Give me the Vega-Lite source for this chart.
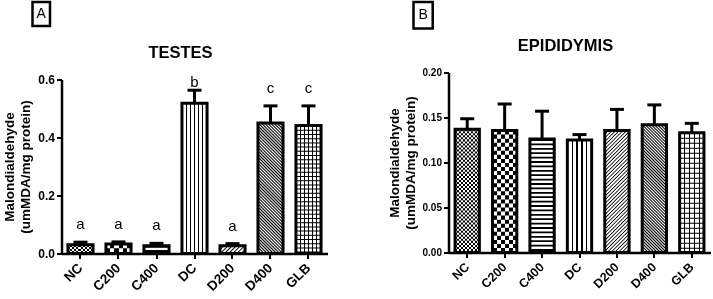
{
"$schema": "https://vega.github.io/schema/vega-lite/v6.json",
"padding": {"left": 1.5, "top": 0, "right": 0, "bottom": 0},
"spacing": 58,
"config": {
  "font": "Liberation Sans",
  "view": {"stroke": null},
  "axis": {"domainColor": "#000", "domainWidth": 2.5, "tickColor": "#000", "tickWidth": 2, "tickSize": 5, "labelColor": "#000", "labelFontWeight": "bold", "titleColor": "#000", "titleFontWeight": "bold", "grid": false},
  "title": {"fontSize": 16.5, "fontWeight": "bold", "color": "#000"}
},
"datasets": {
  "testes": [
    {"group": "NC", "mean": 0.030, "upper": 0.039, "letter": "a"},
    {"group": "C200", "mean": 0.033, "upper": 0.040, "letter": "a"},
    {"group": "C400", "mean": 0.027, "upper": 0.035, "letter": "a"},
    {"group": "DC", "mean": 0.518, "upper": 0.563, "letter": "b"},
    {"group": "D200", "mean": 0.027, "upper": 0.034, "letter": "a"},
    {"group": "D400", "mean": 0.450, "upper": 0.509, "letter": "c"},
    {"group": "GLB", "mean": 0.441, "upper": 0.509, "letter": "c"}
  ],
  "epididymis": [
    {"group": "NC", "mean": 0.137, "upper": 0.1486},
    {"group": "C200", "mean": 0.1355, "upper": 0.165},
    {"group": "C400", "mean": 0.126, "upper": 0.157},
    {"group": "DC", "mean": 0.125, "upper": 0.131},
    {"group": "D200", "mean": 0.1355, "upper": 0.159},
    {"group": "D400", "mean": 0.142, "upper": 0.164},
    {"group": "GLB", "mean": 0.133, "upper": 0.1435}
  ]
},
"hconcat": [
{
  "spacing": 16.5,
  "vconcat": [
    {"spacing": 10, "hconcat": [
      {"width": 19, "height": 24, "data": {"values": [{}]}, "mark": {"type": "text", "text": ""}, "encoding": {}},
      {"width": 17.5, "height": 24, "view": {"stroke": "#000", "strokeWidth": 2.5}, "data": {"values": [{"label": "A"}]}, "mark": {"type": "text", "fontSize": 14, "align": "center", "baseline": "middle", "color": "#000"}, "encoding": {"text": {"field": "label"}}}
    ]},
    {"spacing": 0, "hconcat": [
    {"width": 1, "height": 1, "data": {"values": [{}]}, "mark": {"type": "text", "text": ""}, "encoding": {}},
    {
      "width": 266, "height": 174,
      "data": {"name": "testes"},
      "title": {"text": "TESTES", "dx": -14, "offset": 12},
      "encoding": {
        "x": {"field": "group", "type": "nominal", "sort": null, "scale": {"paddingInner": 0.34, "paddingOuter": 0.17}, "axis": {"title": null, "labelAngle": -45, "labelFontSize": 13.5, "labelAlign": "right", "labelBaseline": "middle", "labelPadding": 7}},
        "y": {"field": "mean", "type": "quantitative", "title": ["Malondialdehyde", "(umMDA/mg protein)"], "scale": {"domain": [0, 0.6], "nice": false}, "axis": {"values": [0, 0.2, 0.4, 0.6], "format": ".1f", "labelFontSize": 12, "labelPadding": 2, "titleFontSize": 13.5, "titleLineHeight": 16, "titlePadding": 5}}
      },
      "layer": [
        {"mark": {"type": "bar"}, "encoding": {"fill": {"condition": [
          {"test": "datum.group == 'DC'", "value": {"gradient": "linear", "x1": 0, "y1": 0, "x2": 1, "y2": 0, "stops": [
            {"offset": 0, "color": "#fff"}, {"offset": 0.142, "color": "#fff"}, {"offset": 0.142, "color": "#000"}, {"offset": 0.192, "color": "#000"}, {"offset": 0.192, "color": "#fff"},
            {"offset": 0.308, "color": "#fff"}, {"offset": 0.308, "color": "#000"}, {"offset": 0.358, "color": "#000"}, {"offset": 0.358, "color": "#fff"},
            {"offset": 0.475, "color": "#fff"}, {"offset": 0.475, "color": "#000"}, {"offset": 0.525, "color": "#000"}, {"offset": 0.525, "color": "#fff"},
            {"offset": 0.642, "color": "#fff"}, {"offset": 0.642, "color": "#000"}, {"offset": 0.692, "color": "#000"}, {"offset": 0.692, "color": "#fff"},
            {"offset": 0.808, "color": "#fff"}, {"offset": 0.808, "color": "#000"}, {"offset": 0.858, "color": "#000"}, {"offset": 0.858, "color": "#fff"}, {"offset": 1, "color": "#fff"}]}},
          {"test": "datum.group == 'D200'", "value": {"gradient": "linear", "x1": 0, "y1": 0, "x2": 1.1958, "y2": 0.3732, "stops": [
            {"offset": 0, "color": "#000"}, {"offset": 0.04, "color": "#fff"}, {"offset": 0.085, "color": "#fff"},
            {"offset": 0.125, "color": "#000"}, {"offset": 0.165, "color": "#fff"}, {"offset": 0.21, "color": "#fff"},
            {"offset": 0.25, "color": "#000"}, {"offset": 0.29, "color": "#fff"}, {"offset": 0.335, "color": "#fff"},
            {"offset": 0.375, "color": "#000"}, {"offset": 0.415, "color": "#fff"}, {"offset": 0.46, "color": "#fff"},
            {"offset": 0.5, "color": "#000"}, {"offset": 0.54, "color": "#fff"}, {"offset": 0.585, "color": "#fff"},
            {"offset": 0.625, "color": "#000"}, {"offset": 0.665, "color": "#fff"}, {"offset": 0.71, "color": "#fff"},
            {"offset": 0.75, "color": "#000"}, {"offset": 0.79, "color": "#fff"}, {"offset": 0.835, "color": "#fff"},
            {"offset": 0.875, "color": "#000"}, {"offset": 0.915, "color": "#fff"}, {"offset": 0.96, "color": "#fff"}, {"offset": 1, "color": "#000"}]}},
          {"test": "datum.group == 'D400'", "value": {"gradient": "linear", "x1": 0, "y1": 1, "x2": 0.2211, "y2": -0.1497, "stops": [
            {"offset": 0, "color": "#000"}, {"offset": 0.01, "color": "#fff"}, {"offset": 0.02, "color": "#000"}, {"offset": 0.03, "color": "#fff"}, {"offset": 0.04, "color": "#000"}, {"offset": 0.05, "color": "#fff"}, {"offset": 0.06, "color": "#000"}, {"offset": 0.07, "color": "#fff"}, {"offset": 0.08, "color": "#000"}, {"offset": 0.09, "color": "#fff"},
            {"offset": 0.1, "color": "#000"}, {"offset": 0.11, "color": "#fff"}, {"offset": 0.12, "color": "#000"}, {"offset": 0.13, "color": "#fff"}, {"offset": 0.14, "color": "#000"}, {"offset": 0.15, "color": "#fff"}, {"offset": 0.16, "color": "#000"}, {"offset": 0.17, "color": "#fff"}, {"offset": 0.18, "color": "#000"}, {"offset": 0.19, "color": "#fff"},
            {"offset": 0.2, "color": "#000"}, {"offset": 0.21, "color": "#fff"}, {"offset": 0.22, "color": "#000"}, {"offset": 0.23, "color": "#fff"}, {"offset": 0.24, "color": "#000"}, {"offset": 0.25, "color": "#fff"}, {"offset": 0.26, "color": "#000"}, {"offset": 0.27, "color": "#fff"}, {"offset": 0.28, "color": "#000"}, {"offset": 0.29, "color": "#fff"},
            {"offset": 0.3, "color": "#000"}, {"offset": 0.31, "color": "#fff"}, {"offset": 0.32, "color": "#000"}, {"offset": 0.33, "color": "#fff"}, {"offset": 0.34, "color": "#000"}, {"offset": 0.35, "color": "#fff"}, {"offset": 0.36, "color": "#000"}, {"offset": 0.37, "color": "#fff"}, {"offset": 0.38, "color": "#000"}, {"offset": 0.39, "color": "#fff"},
            {"offset": 0.4, "color": "#000"}, {"offset": 0.41, "color": "#fff"}, {"offset": 0.42, "color": "#000"}, {"offset": 0.43, "color": "#fff"}, {"offset": 0.44, "color": "#000"}, {"offset": 0.45, "color": "#fff"}, {"offset": 0.46, "color": "#000"}, {"offset": 0.47, "color": "#fff"}, {"offset": 0.48, "color": "#000"}, {"offset": 0.49, "color": "#fff"},
            {"offset": 0.5, "color": "#000"}, {"offset": 0.51, "color": "#fff"}, {"offset": 0.52, "color": "#000"}, {"offset": 0.53, "color": "#fff"}, {"offset": 0.54, "color": "#000"}, {"offset": 0.55, "color": "#fff"}, {"offset": 0.56, "color": "#000"}, {"offset": 0.57, "color": "#fff"}, {"offset": 0.58, "color": "#000"}, {"offset": 0.59, "color": "#fff"},
            {"offset": 0.6, "color": "#000"}, {"offset": 0.61, "color": "#fff"}, {"offset": 0.62, "color": "#000"}, {"offset": 0.63, "color": "#fff"}, {"offset": 0.64, "color": "#000"}, {"offset": 0.65, "color": "#fff"}, {"offset": 0.66, "color": "#000"}, {"offset": 0.67, "color": "#fff"}, {"offset": 0.68, "color": "#000"}, {"offset": 0.69, "color": "#fff"},
            {"offset": 0.7, "color": "#000"}, {"offset": 0.71, "color": "#fff"}, {"offset": 0.72, "color": "#000"}, {"offset": 0.73, "color": "#fff"}, {"offset": 0.74, "color": "#000"}, {"offset": 0.75, "color": "#fff"}, {"offset": 0.76, "color": "#000"}, {"offset": 0.77, "color": "#fff"}, {"offset": 0.78, "color": "#000"}, {"offset": 0.79, "color": "#fff"},
            {"offset": 0.8, "color": "#000"}, {"offset": 0.81, "color": "#fff"}, {"offset": 0.82, "color": "#000"}, {"offset": 0.83, "color": "#fff"}, {"offset": 0.84, "color": "#000"}, {"offset": 0.85, "color": "#fff"}, {"offset": 0.86, "color": "#000"}, {"offset": 0.87, "color": "#fff"}, {"offset": 0.88, "color": "#000"}, {"offset": 0.89, "color": "#fff"},
            {"offset": 0.9, "color": "#000"}, {"offset": 0.91, "color": "#fff"}, {"offset": 0.92, "color": "#000"}, {"offset": 0.93, "color": "#fff"}, {"offset": 0.94, "color": "#000"}, {"offset": 0.95, "color": "#fff"}, {"offset": 0.96, "color": "#000"}, {"offset": 0.97, "color": "#fff"}, {"offset": 0.98, "color": "#000"}, {"offset": 0.99, "color": "#fff"}, {"offset": 1, "color": "#000"}]}}
        ], "value": "#fff"}}},
        {"transform": [{"filter": "datum.group == 'NC' || datum.group == 'C200' || datum.group == 'C400' || datum.group == 'GLB'"}],
         "mark": {"type": "rule", "stroke": "#000", "strokeWidth": 25.1},
         "encoding": {"y2": {"datum": 0}, "strokeDash": {"condition": [
           {"test": "datum.group == 'NC'", "value": [2.1, 2.1]},
           {"test": "datum.group == 'C200'", "value": [4.2, 4.2]},
           {"test": "datum.group == 'GLB'", "value": [1, 3.2]}
         ], "value": [2, 2.4]}}},
        {"transform": [{"filter": "datum.group == 'NC' || datum.group == 'C200'"}],
         "mark": {"type": "bar", "blend": "difference"},
         "encoding": {"fill": {"condition": {"test": "datum.group == 'NC'", "value": {"gradient": "linear", "x1": 0, "y1": 0, "x2": 1, "y2": 0, "stops": [
           {"offset": 0, "color": "#fff"}, {"offset": 0.0833, "color": "#fff"}, {"offset": 0.0833, "color": "rgba(255,255,255,0)"}, {"offset": 0.1667, "color": "rgba(255,255,255,0)"},
           {"offset": 0.1667, "color": "#fff"}, {"offset": 0.25, "color": "#fff"}, {"offset": 0.25, "color": "rgba(255,255,255,0)"}, {"offset": 0.3333, "color": "rgba(255,255,255,0)"},
           {"offset": 0.3333, "color": "#fff"}, {"offset": 0.4167, "color": "#fff"}, {"offset": 0.4167, "color": "rgba(255,255,255,0)"}, {"offset": 0.5, "color": "rgba(255,255,255,0)"},
           {"offset": 0.5, "color": "#fff"}, {"offset": 0.5833, "color": "#fff"}, {"offset": 0.5833, "color": "rgba(255,255,255,0)"}, {"offset": 0.6667, "color": "rgba(255,255,255,0)"},
           {"offset": 0.6667, "color": "#fff"}, {"offset": 0.75, "color": "#fff"}, {"offset": 0.75, "color": "rgba(255,255,255,0)"}, {"offset": 0.8333, "color": "rgba(255,255,255,0)"},
           {"offset": 0.8333, "color": "#fff"}, {"offset": 0.9167, "color": "#fff"}, {"offset": 0.9167, "color": "rgba(255,255,255,0)"}, {"offset": 1, "color": "rgba(255,255,255,0)"}]}},
           "value": {"gradient": "linear", "x1": 0, "y1": 0, "x2": 1, "y2": 0, "stops": [
           {"offset": 0, "color": "#fff"}, {"offset": 0.1667, "color": "#fff"}, {"offset": 0.1667, "color": "rgba(255,255,255,0)"}, {"offset": 0.3333, "color": "rgba(255,255,255,0)"},
           {"offset": 0.3333, "color": "#fff"}, {"offset": 0.5, "color": "#fff"}, {"offset": 0.5, "color": "rgba(255,255,255,0)"}, {"offset": 0.6667, "color": "rgba(255,255,255,0)"},
           {"offset": 0.6667, "color": "#fff"}, {"offset": 0.8333, "color": "#fff"}, {"offset": 0.8333, "color": "rgba(255,255,255,0)"}, {"offset": 1, "color": "rgba(255,255,255,0)"}]}}}},
        {"transform": [{"filter": "datum.group == 'GLB'"}],
         "mark": {"type": "bar", "fill": {"gradient": "linear", "x1": 0, "y1": 0, "x2": 1, "y2": 0, "stops": [
           {"offset": 0, "color": "rgba(0,0,0,0)"}, {"offset": 0.147, "color": "rgba(0,0,0,0)"}, {"offset": 0.147, "color": "#000"}, {"offset": 0.187, "color": "#000"}, {"offset": 0.187, "color": "rgba(0,0,0,0)"},
           {"offset": 0.313, "color": "rgba(0,0,0,0)"}, {"offset": 0.313, "color": "#000"}, {"offset": 0.353, "color": "#000"}, {"offset": 0.353, "color": "rgba(0,0,0,0)"},
           {"offset": 0.48, "color": "rgba(0,0,0,0)"}, {"offset": 0.48, "color": "#000"}, {"offset": 0.52, "color": "#000"}, {"offset": 0.52, "color": "rgba(0,0,0,0)"},
           {"offset": 0.647, "color": "rgba(0,0,0,0)"}, {"offset": 0.647, "color": "#000"}, {"offset": 0.687, "color": "#000"}, {"offset": 0.687, "color": "rgba(0,0,0,0)"},
           {"offset": 0.813, "color": "rgba(0,0,0,0)"}, {"offset": 0.813, "color": "#000"}, {"offset": 0.853, "color": "#000"}, {"offset": 0.853, "color": "rgba(0,0,0,0)"}, {"offset": 1, "color": "rgba(0,0,0,0)"}]}},
         "encoding": {}},
        {"mark": {"type": "bar", "fillOpacity": 0, "stroke": "#000", "strokeWidth": 3}},
        {"mark": {"type": "rule", "stroke": "#000", "strokeWidth": 3}, "encoding": {"y2": {"field": "upper"}}},
        {"mark": {"type": "tick", "color": "#000", "opacity": 1, "size": 14, "thickness": 3}, "encoding": {"y": {"field": "upper", "type": "quantitative", "title": ["Malondialdehyde", "(umMDA/mg protein)"]}}},
        {"transform": [{"filter": "datum.group != 'DC'"}], "mark": {"type": "text", "dy": -13, "baseline": "alphabetic", "fontSize": 15, "color": "#000"}, "encoding": {"y": {"field": "upper", "type": "quantitative", "title": ["Malondialdehyde", "(umMDA/mg protein)"]}, "text": {"field": "letter"}}},
        {"transform": [{"filter": "datum.group == 'DC'"}], "mark": {"type": "text", "dy": -3, "baseline": "alphabetic", "fontSize": 15, "color": "#000"}, "encoding": {"y": {"field": "upper", "type": "quantitative", "title": ["Malondialdehyde", "(umMDA/mg protein)"]}, "text": {"field": "letter"}}}
      ]
    }
    ]}
  ]
},
{
  "spacing": 7.5,
  "vconcat": [
    {"spacing": 10, "hconcat": [
      {"width": 15.75, "height": 26.5, "data": {"values": [{}]}, "mark": {"type": "text", "text": ""}, "encoding": {}},
      {"width": 19.2, "height": 26.5, "view": {"stroke": "#000", "strokeWidth": 2.5}, "data": {"values": [{"label": "B"}]}, "mark": {"type": "text", "fontSize": 14, "align": "center", "baseline": "middle", "color": "#000"}, "encoding": {"text": {"field": "label"}}}
    ]},
    {"spacing": 0, "hconcat": [
    {"width": 1, "height": 1, "data": {"values": [{}]}, "mark": {"type": "text", "text": ""}, "encoding": {}},
    {
      "width": 262, "height": 180,
      "data": {"name": "epididymis"},
      "title": {"text": "EPIDIDYMIS", "dx": -14, "offset": 13.3},
      "encoding": {
        "x": {"field": "group", "type": "nominal", "sort": null, "scale": {"paddingInner": 0.35, "paddingOuter": 0.175}, "axis": {"title": null, "labelAngle": -45, "labelFontSize": 12.5, "labelAlign": "right", "labelBaseline": "middle", "labelPadding": 7}},
        "y": {"field": "mean", "type": "quantitative", "title": ["Malondialdehyde", "(umMDA/mg protein)"], "scale": {"domain": [0, 0.2], "nice": false}, "axis": {"values": [0, 0.05, 0.1, 0.15, 0.2], "format": ".2f", "labelFontSize": 10, "labelPadding": 2, "titleFontSize": 13.5, "titleLineHeight": 16, "titlePadding": 5}}
      },
      "layer": [
        {"mark": {"type": "bar"}, "encoding": {"fill": {"condition": [
          {"test": "datum.group == 'DC'", "value": {"gradient": "linear", "x1": 0, "y1": 0, "x2": 1, "y2": 0, "stops": [
            {"offset": 0, "color": "#fff"}, {"offset": 0.175, "color": "#fff"}, {"offset": 0.175, "color": "#000"}, {"offset": 0.225, "color": "#000"}, {"offset": 0.225, "color": "#fff"},
            {"offset": 0.375, "color": "#fff"}, {"offset": 0.375, "color": "#000"}, {"offset": 0.425, "color": "#000"}, {"offset": 0.425, "color": "#fff"},
            {"offset": 0.575, "color": "#fff"}, {"offset": 0.575, "color": "#000"}, {"offset": 0.625, "color": "#000"}, {"offset": 0.625, "color": "#fff"},
            {"offset": 0.775, "color": "#fff"}, {"offset": 0.775, "color": "#000"}, {"offset": 0.825, "color": "#000"}, {"offset": 0.825, "color": "#fff"}, {"offset": 1, "color": "#fff"}]}},
          {"test": "datum.group == 'D200'", "value": {"gradient": "linear", "x1": 0, "y1": 0, "x2": 0.2302, "y2": 1.1536, "stops": [
            {"offset": 0, "color": "#000"}, {"offset": 0.008, "color": "#fff"}, {"offset": 0.017, "color": "#fff"},
            {"offset": 0.025, "color": "#000"}, {"offset": 0.033, "color": "#fff"}, {"offset": 0.042, "color": "#fff"},
            {"offset": 0.05, "color": "#000"}, {"offset": 0.058, "color": "#fff"}, {"offset": 0.067, "color": "#fff"},
            {"offset": 0.075, "color": "#000"}, {"offset": 0.083, "color": "#fff"}, {"offset": 0.092, "color": "#fff"},
            {"offset": 0.1, "color": "#000"}, {"offset": 0.108, "color": "#fff"}, {"offset": 0.117, "color": "#fff"},
            {"offset": 0.125, "color": "#000"}, {"offset": 0.133, "color": "#fff"}, {"offset": 0.142, "color": "#fff"},
            {"offset": 0.15, "color": "#000"}, {"offset": 0.158, "color": "#fff"}, {"offset": 0.167, "color": "#fff"},
            {"offset": 0.175, "color": "#000"}, {"offset": 0.183, "color": "#fff"}, {"offset": 0.192, "color": "#fff"},
            {"offset": 0.2, "color": "#000"}, {"offset": 0.208, "color": "#fff"}, {"offset": 0.217, "color": "#fff"},
            {"offset": 0.225, "color": "#000"}, {"offset": 0.233, "color": "#fff"}, {"offset": 0.242, "color": "#fff"},
            {"offset": 0.25, "color": "#000"}, {"offset": 0.258, "color": "#fff"}, {"offset": 0.267, "color": "#fff"},
            {"offset": 0.275, "color": "#000"}, {"offset": 0.283, "color": "#fff"}, {"offset": 0.292, "color": "#fff"},
            {"offset": 0.3, "color": "#000"}, {"offset": 0.308, "color": "#fff"}, {"offset": 0.317, "color": "#fff"},
            {"offset": 0.325, "color": "#000"}, {"offset": 0.333, "color": "#fff"}, {"offset": 0.342, "color": "#fff"},
            {"offset": 0.35, "color": "#000"}, {"offset": 0.358, "color": "#fff"}, {"offset": 0.367, "color": "#fff"},
            {"offset": 0.375, "color": "#000"}, {"offset": 0.383, "color": "#fff"}, {"offset": 0.392, "color": "#fff"},
            {"offset": 0.4, "color": "#000"}, {"offset": 0.408, "color": "#fff"}, {"offset": 0.417, "color": "#fff"},
            {"offset": 0.425, "color": "#000"}, {"offset": 0.433, "color": "#fff"}, {"offset": 0.442, "color": "#fff"},
            {"offset": 0.45, "color": "#000"}, {"offset": 0.458, "color": "#fff"}, {"offset": 0.467, "color": "#fff"},
            {"offset": 0.475, "color": "#000"}, {"offset": 0.483, "color": "#fff"}, {"offset": 0.492, "color": "#fff"},
            {"offset": 0.5, "color": "#000"}, {"offset": 0.508, "color": "#fff"}, {"offset": 0.517, "color": "#fff"},
            {"offset": 0.525, "color": "#000"}, {"offset": 0.533, "color": "#fff"}, {"offset": 0.542, "color": "#fff"},
            {"offset": 0.55, "color": "#000"}, {"offset": 0.558, "color": "#fff"}, {"offset": 0.567, "color": "#fff"},
            {"offset": 0.575, "color": "#000"}, {"offset": 0.583, "color": "#fff"}, {"offset": 0.592, "color": "#fff"},
            {"offset": 0.6, "color": "#000"}, {"offset": 0.608, "color": "#fff"}, {"offset": 0.617, "color": "#fff"},
            {"offset": 0.625, "color": "#000"}, {"offset": 0.633, "color": "#fff"}, {"offset": 0.642, "color": "#fff"},
            {"offset": 0.65, "color": "#000"}, {"offset": 0.658, "color": "#fff"}, {"offset": 0.667, "color": "#fff"},
            {"offset": 0.675, "color": "#000"}, {"offset": 0.683, "color": "#fff"}, {"offset": 0.692, "color": "#fff"},
            {"offset": 0.7, "color": "#000"}, {"offset": 0.708, "color": "#fff"}, {"offset": 0.717, "color": "#fff"},
            {"offset": 0.725, "color": "#000"}, {"offset": 0.733, "color": "#fff"}, {"offset": 0.742, "color": "#fff"},
            {"offset": 0.75, "color": "#000"}, {"offset": 0.758, "color": "#fff"}, {"offset": 0.767, "color": "#fff"},
            {"offset": 0.775, "color": "#000"}, {"offset": 0.783, "color": "#fff"}, {"offset": 0.792, "color": "#fff"},
            {"offset": 0.8, "color": "#000"}, {"offset": 0.808, "color": "#fff"}, {"offset": 0.817, "color": "#fff"},
            {"offset": 0.825, "color": "#000"}, {"offset": 0.833, "color": "#fff"}, {"offset": 0.842, "color": "#fff"},
            {"offset": 0.85, "color": "#000"}, {"offset": 0.858, "color": "#fff"}, {"offset": 0.867, "color": "#fff"},
            {"offset": 0.875, "color": "#000"}, {"offset": 0.883, "color": "#fff"}, {"offset": 0.892, "color": "#fff"},
            {"offset": 0.9, "color": "#000"}, {"offset": 0.908, "color": "#fff"}, {"offset": 0.917, "color": "#fff"},
            {"offset": 0.925, "color": "#000"}, {"offset": 0.933, "color": "#fff"}, {"offset": 0.942, "color": "#fff"},
            {"offset": 0.95, "color": "#000"}, {"offset": 0.958, "color": "#fff"}, {"offset": 0.967, "color": "#fff"},
            {"offset": 0.975, "color": "#000"}, {"offset": 0.983, "color": "#fff"}, {"offset": 0.992, "color": "#fff"}, {"offset": 1, "color": "#000"}]}},
          {"test": "datum.group == 'D400'", "value": {"gradient": "linear", "x1": 0, "y1": 1, "x2": 0.2187, "y2": -0.1488, "stops": [
            {"offset": 0, "color": "#000"}, {"offset": 0.01, "color": "#fff"}, {"offset": 0.02, "color": "#000"}, {"offset": 0.03, "color": "#fff"}, {"offset": 0.04, "color": "#000"}, {"offset": 0.05, "color": "#fff"}, {"offset": 0.06, "color": "#000"}, {"offset": 0.07, "color": "#fff"}, {"offset": 0.08, "color": "#000"}, {"offset": 0.09, "color": "#fff"},
            {"offset": 0.1, "color": "#000"}, {"offset": 0.11, "color": "#fff"}, {"offset": 0.12, "color": "#000"}, {"offset": 0.13, "color": "#fff"}, {"offset": 0.14, "color": "#000"}, {"offset": 0.15, "color": "#fff"}, {"offset": 0.16, "color": "#000"}, {"offset": 0.17, "color": "#fff"}, {"offset": 0.18, "color": "#000"}, {"offset": 0.19, "color": "#fff"},
            {"offset": 0.2, "color": "#000"}, {"offset": 0.21, "color": "#fff"}, {"offset": 0.22, "color": "#000"}, {"offset": 0.23, "color": "#fff"}, {"offset": 0.24, "color": "#000"}, {"offset": 0.25, "color": "#fff"}, {"offset": 0.26, "color": "#000"}, {"offset": 0.27, "color": "#fff"}, {"offset": 0.28, "color": "#000"}, {"offset": 0.29, "color": "#fff"},
            {"offset": 0.3, "color": "#000"}, {"offset": 0.31, "color": "#fff"}, {"offset": 0.32, "color": "#000"}, {"offset": 0.33, "color": "#fff"}, {"offset": 0.34, "color": "#000"}, {"offset": 0.35, "color": "#fff"}, {"offset": 0.36, "color": "#000"}, {"offset": 0.37, "color": "#fff"}, {"offset": 0.38, "color": "#000"}, {"offset": 0.39, "color": "#fff"},
            {"offset": 0.4, "color": "#000"}, {"offset": 0.41, "color": "#fff"}, {"offset": 0.42, "color": "#000"}, {"offset": 0.43, "color": "#fff"}, {"offset": 0.44, "color": "#000"}, {"offset": 0.45, "color": "#fff"}, {"offset": 0.46, "color": "#000"}, {"offset": 0.47, "color": "#fff"}, {"offset": 0.48, "color": "#000"}, {"offset": 0.49, "color": "#fff"},
            {"offset": 0.5, "color": "#000"}, {"offset": 0.51, "color": "#fff"}, {"offset": 0.52, "color": "#000"}, {"offset": 0.53, "color": "#fff"}, {"offset": 0.54, "color": "#000"}, {"offset": 0.55, "color": "#fff"}, {"offset": 0.56, "color": "#000"}, {"offset": 0.57, "color": "#fff"}, {"offset": 0.58, "color": "#000"}, {"offset": 0.59, "color": "#fff"},
            {"offset": 0.6, "color": "#000"}, {"offset": 0.61, "color": "#fff"}, {"offset": 0.62, "color": "#000"}, {"offset": 0.63, "color": "#fff"}, {"offset": 0.64, "color": "#000"}, {"offset": 0.65, "color": "#fff"}, {"offset": 0.66, "color": "#000"}, {"offset": 0.67, "color": "#fff"}, {"offset": 0.68, "color": "#000"}, {"offset": 0.69, "color": "#fff"},
            {"offset": 0.7, "color": "#000"}, {"offset": 0.71, "color": "#fff"}, {"offset": 0.72, "color": "#000"}, {"offset": 0.73, "color": "#fff"}, {"offset": 0.74, "color": "#000"}, {"offset": 0.75, "color": "#fff"}, {"offset": 0.76, "color": "#000"}, {"offset": 0.77, "color": "#fff"}, {"offset": 0.78, "color": "#000"}, {"offset": 0.79, "color": "#fff"},
            {"offset": 0.8, "color": "#000"}, {"offset": 0.81, "color": "#fff"}, {"offset": 0.82, "color": "#000"}, {"offset": 0.83, "color": "#fff"}, {"offset": 0.84, "color": "#000"}, {"offset": 0.85, "color": "#fff"}, {"offset": 0.86, "color": "#000"}, {"offset": 0.87, "color": "#fff"}, {"offset": 0.88, "color": "#000"}, {"offset": 0.89, "color": "#fff"},
            {"offset": 0.9, "color": "#000"}, {"offset": 0.91, "color": "#fff"}, {"offset": 0.92, "color": "#000"}, {"offset": 0.93, "color": "#fff"}, {"offset": 0.94, "color": "#000"}, {"offset": 0.95, "color": "#fff"}, {"offset": 0.96, "color": "#000"}, {"offset": 0.97, "color": "#fff"}, {"offset": 0.98, "color": "#000"}, {"offset": 0.99, "color": "#fff"}, {"offset": 1, "color": "#000"}]}}
        ], "value": "#fff"}}},
        {"transform": [{"filter": "datum.group == 'NC' || datum.group == 'C200' || datum.group == 'C400' || datum.group == 'GLB'"}],
         "mark": {"type": "rule", "stroke": "#000", "strokeWidth": 24.33},
         "encoding": {"y2": {"datum": 0}, "strokeDash": {"condition": [
           {"test": "datum.group == 'NC'", "value": [2.03, 2.03]},
           {"test": "datum.group == 'C200'", "value": [4.05, 4.05]},
           {"test": "datum.group == 'GLB'", "value": [1.05, 3.95]}
         ], "value": [1.8, 2.6]}}},
        {"transform": [{"filter": "datum.group == 'NC' || datum.group == 'C200'"}],
         "mark": {"type": "bar", "blend": "difference"},
         "encoding": {"fill": {"condition": {"test": "datum.group == 'NC'", "value": {"gradient": "linear", "x1": 0, "y1": 0, "x2": 1, "y2": 0, "stops": [
           {"offset": 0, "color": "#fff"}, {"offset": 0.0833, "color": "#fff"}, {"offset": 0.0833, "color": "rgba(255,255,255,0)"}, {"offset": 0.1667, "color": "rgba(255,255,255,0)"},
           {"offset": 0.1667, "color": "#fff"}, {"offset": 0.25, "color": "#fff"}, {"offset": 0.25, "color": "rgba(255,255,255,0)"}, {"offset": 0.3333, "color": "rgba(255,255,255,0)"},
           {"offset": 0.3333, "color": "#fff"}, {"offset": 0.4167, "color": "#fff"}, {"offset": 0.4167, "color": "rgba(255,255,255,0)"}, {"offset": 0.5, "color": "rgba(255,255,255,0)"},
           {"offset": 0.5, "color": "#fff"}, {"offset": 0.5833, "color": "#fff"}, {"offset": 0.5833, "color": "rgba(255,255,255,0)"}, {"offset": 0.6667, "color": "rgba(255,255,255,0)"},
           {"offset": 0.6667, "color": "#fff"}, {"offset": 0.75, "color": "#fff"}, {"offset": 0.75, "color": "rgba(255,255,255,0)"}, {"offset": 0.8333, "color": "rgba(255,255,255,0)"},
           {"offset": 0.8333, "color": "#fff"}, {"offset": 0.9167, "color": "#fff"}, {"offset": 0.9167, "color": "rgba(255,255,255,0)"}, {"offset": 1, "color": "rgba(255,255,255,0)"}]}},
           "value": {"gradient": "linear", "x1": 0, "y1": 0, "x2": 1, "y2": 0, "stops": [
           {"offset": 0, "color": "#fff"}, {"offset": 0.1667, "color": "#fff"}, {"offset": 0.1667, "color": "rgba(255,255,255,0)"}, {"offset": 0.3333, "color": "rgba(255,255,255,0)"},
           {"offset": 0.3333, "color": "#fff"}, {"offset": 0.5, "color": "#fff"}, {"offset": 0.5, "color": "rgba(255,255,255,0)"}, {"offset": 0.6667, "color": "rgba(255,255,255,0)"},
           {"offset": 0.6667, "color": "#fff"}, {"offset": 0.8333, "color": "#fff"}, {"offset": 0.8333, "color": "rgba(255,255,255,0)"}, {"offset": 1, "color": "rgba(255,255,255,0)"}]}}}},
        {"transform": [{"filter": "datum.group == 'GLB'"}],
         "mark": {"type": "bar", "fill": {"gradient": "linear", "x1": 0, "y1": 0, "x2": 1, "y2": 0, "stops": [
           {"offset": 0, "color": "rgba(0,0,0,0)"}, {"offset": 0.179, "color": "rgba(0,0,0,0)"}, {"offset": 0.179, "color": "#000"}, {"offset": 0.221, "color": "#000"}, {"offset": 0.221, "color": "rgba(0,0,0,0)"},
           {"offset": 0.379, "color": "rgba(0,0,0,0)"}, {"offset": 0.379, "color": "#000"}, {"offset": 0.421, "color": "#000"}, {"offset": 0.421, "color": "rgba(0,0,0,0)"},
           {"offset": 0.579, "color": "rgba(0,0,0,0)"}, {"offset": 0.579, "color": "#000"}, {"offset": 0.621, "color": "#000"}, {"offset": 0.621, "color": "rgba(0,0,0,0)"},
           {"offset": 0.779, "color": "rgba(0,0,0,0)"}, {"offset": 0.779, "color": "#000"}, {"offset": 0.821, "color": "#000"}, {"offset": 0.821, "color": "rgba(0,0,0,0)"}, {"offset": 1, "color": "rgba(0,0,0,0)"}]}},
         "encoding": {}},
        {"mark": {"type": "bar", "fillOpacity": 0, "stroke": "#000", "strokeWidth": 3}},
        {"mark": {"type": "rule", "stroke": "#000", "strokeWidth": 3}, "encoding": {"y2": {"field": "upper"}}},
        {"mark": {"type": "tick", "color": "#000", "opacity": 1, "size": 14, "thickness": 3}, "encoding": {"y": {"field": "upper", "type": "quantitative", "title": ["Malondialdehyde", "(umMDA/mg protein)"]}}}
      ]
    }
    ]}
  ]
}
]
}
